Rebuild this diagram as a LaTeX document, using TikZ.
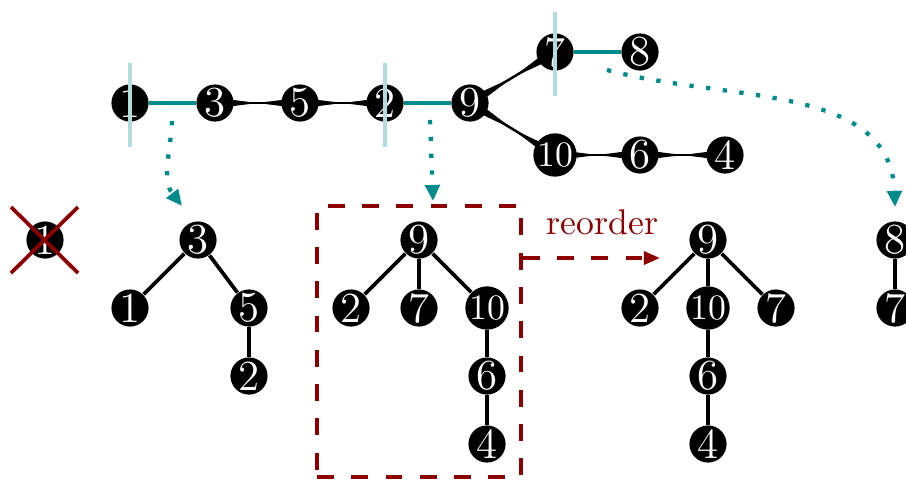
\documentclass[tikz,border=0pt]{standalone}
\usepackage{amsmath,amssymb,amsfonts}
\usepackage{xcolor}
\usetikzlibrary{calc,arrows.meta,backgrounds}

\definecolor{pathteal}{RGB}{0,140,140}
\colorlet{cutred}{red!55!black}

% thick-at-the-ends edge between two nodes
\newcommand{\taperedge}[2]{%
  \fill ($(#1)!1.5pt!90:(#2)$) -- ($(#1)!0.5!(#2)$) -- ($(#1)!1.5pt!-90:(#2)$) -- cycle;
  \fill ($(#2)!1.5pt!90:(#1)$) -- ($(#2)!0.5!(#1)$) -- ($(#2)!1.5pt!-90:(#1)$) -- cycle;
  \draw[line width=0.7pt] (#1) -- (#2);
}

\begin{document}
\begin{tikzpicture}[x=0.28pt, y=-0.28pt,
  vertex/.style={circle, fill=black, text=white, inner sep=0pt, minimum size=10.4pt, font=\large},
  merged/.style={line width=1.05pt, pathteal},
  cutline/.style={line width=1.05pt, pathteal!30},
  treeedge/.style={line width=1.05pt},
  hint/.style={-{Triangle[length=4.5pt,width=4pt]}, pathteal, line width=1.2pt, dash pattern=on 1.2pt off 3.5pt},
  reorderline/.style={cutred, line width=1pt, dash pattern=on 4.7pt off 4.9pt}]
\useasboundingbox (0,0) rectangle (906,479);

% Path
\node[vertex] (t1) at (130,103) {1};
\node[vertex] (t3) at (215,103) {3};
\node[vertex] (t5) at (300,103) {5};
\node[vertex] (t2) at (385,103) {2};
\node[vertex] (t9) at (470,103) {9};
\node[vertex] (t7) at (555,52) {7};
\node[vertex] (t8) at (640,52) {8};
\node[vertex, font=\normalsize] (t10) at (555,155) {10};
\node[vertex] (t6) at (640,155) {6};
\node[vertex] (t4) at (725,155) {4};

% Trees
\node[vertex] (x1) at (45,240) {1};

\node[vertex] (a3) at (198,240) {3};
\node[vertex] (a1) at (130,308) {1};
\node[vertex] (a5) at (249,308) {5};
\node[vertex] (a2) at (249,376) {2};

\node[vertex] (b9) at (419,240) {9};
\node[vertex] (b2) at (351,308) {2};
\node[vertex] (b7) at (419,308) {7};
\node[vertex, font=\normalsize] (b10) at (487,308) {10};
\node[vertex] (b6) at (487,376) {6};
\node[vertex] (b4) at (487,444) {4};

\node[vertex] (c9) at (708,240) {9};
\node[vertex] (c2) at (640,308) {2};
\node[vertex, font=\normalsize] (c10) at (708,308) {10};
\node[vertex] (c7) at (776,308) {7};
\node[vertex] (c6) at (708,376) {6};
\node[vertex] (c4) at (708,444) {4};

\node[vertex] (d8) at (895,240) {8};
\node[vertex] (d7) at (895,308) {7};

% Edges
\begin{scope}[on background layer]
\draw[merged] (t1) -- (t3);
\draw[merged] (t2) -- (t9);
\draw[merged] (t7) -- (t8);
\taperedge{t3}{t5}
\taperedge{t5}{t2}
\taperedge{t9}{t7}
\taperedge{t9}{t10}
\taperedge{t10}{t6}
\taperedge{t6}{t4}

\draw[treeedge] (a3) -- (a1);
\draw[treeedge] (a3) -- (a5);
\draw[treeedge] (a5) -- (a2);
\draw[treeedge] (b9) -- (b2);
\draw[treeedge] (b9) -- (b7);
\draw[treeedge] (b9) -- (b10);
\draw[treeedge] (b10) -- (b6);
\draw[treeedge] (b6) -- (b4);
\draw[treeedge] (c9) -- (c2);
\draw[treeedge] (c9) -- (c10);
\draw[treeedge] (c9) -- (c7);
\draw[treeedge] (c10) -- (c6);
\draw[treeedge] (c6) -- (c4);
\draw[treeedge] (d8) -- (d7);
\end{scope}

% Cuts
\draw[cutline] (130,63) -- (130,147);
\draw[cutline] (385,63) -- (385,147);
\draw[cutline] (555,12) -- (555,96);
\draw[cutred, line width=1.05pt] (11,207) -- (78,273) (11,273) -- (78,207);

% Dotted arrows
\coordinate (h1s) at (172,121);
\coordinate (h1e) at (182,206);
\coordinate (h2s) at (430,120);
\coordinate (h2e) at (433,201);
\coordinate (h3s) at (607,70);
\coordinate (h3e) at (895,207);
\draw[hint] (h1s) to[out=-93,in=128] (h1e);
\draw[hint] (h2s) to[out=-88,in=92] (h2e);
\draw[hint] (h3s) to[out=-15,in=92] (h3e);

% Reorder
\node[reorderline, draw, inner sep=0pt, minimum width=57.1pt, minimum height=75.9pt] (box) at (419,341.5) {};
\coordinate (r1) at (660,258);
\draw[reorderline, -{Triangle[length=4.5pt,width=3.6pt]}] (box.east |- r1) -- (r1)
  node[pos=0.58, above=2.6pt, text=cutred] {reorder};
\end{tikzpicture}
\end{document}
